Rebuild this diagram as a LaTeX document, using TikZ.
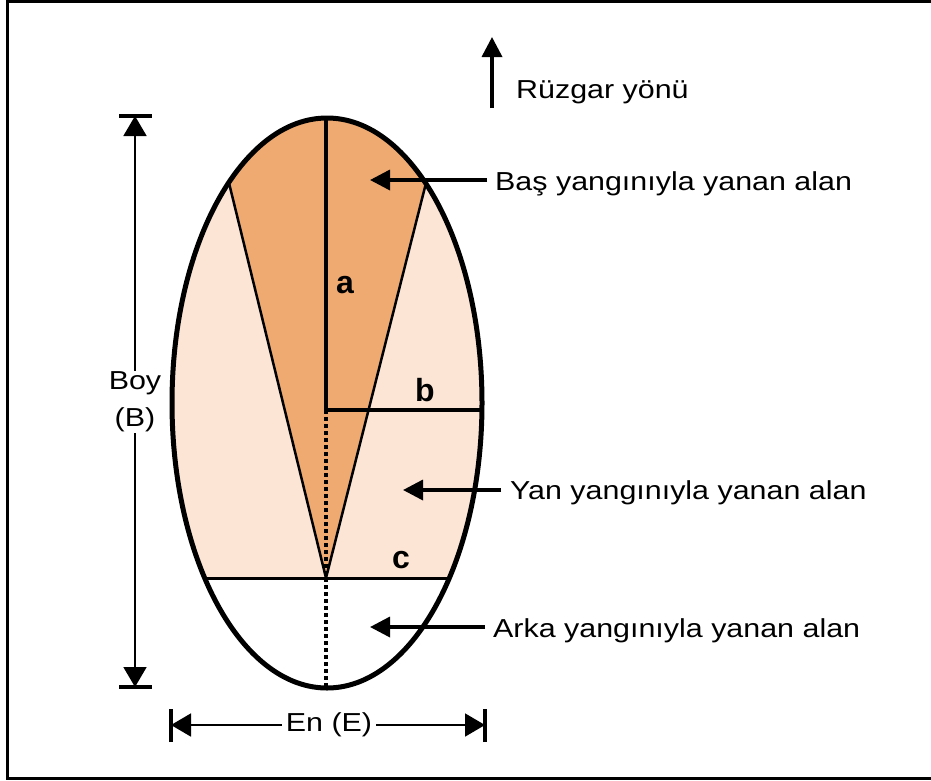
\documentclass[tikz,border=0pt]{standalone}
\usepackage{fontspec}
\setmainfont[FakeStretch=1.17]{Liberation Sans}
\newfontfamily\abcfont{Liberation Sans}
\usetikzlibrary{arrows.meta,calc}

\definecolor{headfill}{HTML}{EFAA72}
\definecolor{flankfill}{HTML}{FCE5D5}

\begin{document}
\begin{tikzpicture}[
  x=1pt, y=-1pt,
  outline/.style={line width=5pt},
  axisline/.style={line width=4.5pt},
  split/.style={line width=2.5pt},
  midline/.style={line width=3.5pt, dash pattern=on 4pt off 3pt},
  callout/.style={line width=3.5pt, -{Triangle[length=20pt, width=20pt]}},
  dimline/.style={line width=1.8pt, {Triangle[length=20pt, width=23pt]}-{Triangle[length=20pt, width=23pt]}},
  dimbar/.style={line width=3.5pt},
  txt/.style={font=\fontsize{26}{37}\selectfont, inner sep=0pt, anchor=base west},
  dimtxt/.style={font=\fontsize{26}{37}\selectfont, fill=white, align=center},
  abc/.style={font=\abcfont\bfseries\fontsize{32}{32}\selectfont, inner sep=0pt},
]
  \useasboundingbox (0,0) rectangle (931,780);
  \draw[line width=3pt] (7.5,1.5) rectangle (945,778.5);

  % Key points of the burnt area
  \coordinate (C) at (327,403);
  \coordinate (O) at (326,410);
  \coordinate (top) at (326,118);
  \coordinate (bot) at (326,688);
  \coordinate (P) at (326,578);
  \coordinate (TL) at (229,183);
  \coordinate (TR) at (426,183);
  \coordinate (bR) at (482,410);
  \coordinate (cL) at (205,578);
  \coordinate (cR) at (449,578);

  % Fills
  \begin{scope}
    \clip (C) ellipse [x radius=155pt, y radius=285pt];
    \fill[flankfill] (150,100) rectangle (500,578);
    \fill[headfill] (P) -- ($(P)!1.5!(TL)$) -- ($(P)!1.5!(TR)$) -- cycle;
  \end{scope}

  % Inner lines
  \draw[split] (P) -- (TL);
  \draw[split] (P) -- (TR);
  \draw[split, line width=3pt] (cL) -- (cR);
  \draw[midline] (O) -- (bot);
  \draw[axisline] (top) -- (O) -- (bR);
  \draw[outline] (C) ellipse [x radius=155pt, y radius=285pt];

  \node[abc] (la) at (345,285) {a};
  \node[abc] (lb) at (425,390) {b};
  \node[abc] (lc) at (401,560) {c};

  % Wind
  \coordinate (w0) at (492,108);
  \coordinate (w1) at (492,37);
  \draw[callout] (w0) -- (w1);
  \node[txt] (wind) at (516,98) {Rüzgar yönü};

  % Callouts
  \node[txt] (head) at (495,190) {Baş yangınıyla yanan alan};
  \coordinate (headtail) at (487,180);
  \coordinate (headtip) at (370,180);
  \draw[callout] (headtail) -- (headtip);

  \node[txt] (flank) at (510,499) {Yan yangınıyla yanan alan};
  \coordinate (flanktail) at (501,490);
  \coordinate (flanktip) at (403,490);
  \draw[callout] (flanktail) -- (flanktip);

  \node[txt] (back) at (493,637) {Arka yangınıyla yanan alan};
  \coordinate (backtail) at (485,627);
  \coordinate (backtip) at (370,627);
  \draw[callout] (backtail) -- (backtip);

  % Dimensions
  \coordinate (Btop) at (135,116);
  \coordinate (Bbot) at (135,687);
  \draw[dimbar] ([xshift=-16pt]Btop) -- ([xshift=17pt]Btop);
  \draw[dimbar] ([xshift=-16pt]Bbot) -- ([xshift=17pt]Bbot);
  \draw[dimline] (Btop) -- (Bbot);
  \node[dimtxt, inner sep=1pt] (boy) at (135,402) {Boy\\(B)};

  \coordinate (Eleft) at (171,725);
  \coordinate (Eright) at (485,725);
  \draw[dimbar] ([yshift=-17pt]Eleft) -- ([yshift=16pt]Eleft);
  \draw[dimbar] ([yshift=-17pt]Eright) -- ([yshift=16pt]Eright);
  \draw[dimline] (Eleft) -- (Eright);
  \node[dimtxt, inner sep=4pt] (en) at (329,725) {En (E)};
\end{tikzpicture}
\end{document}
